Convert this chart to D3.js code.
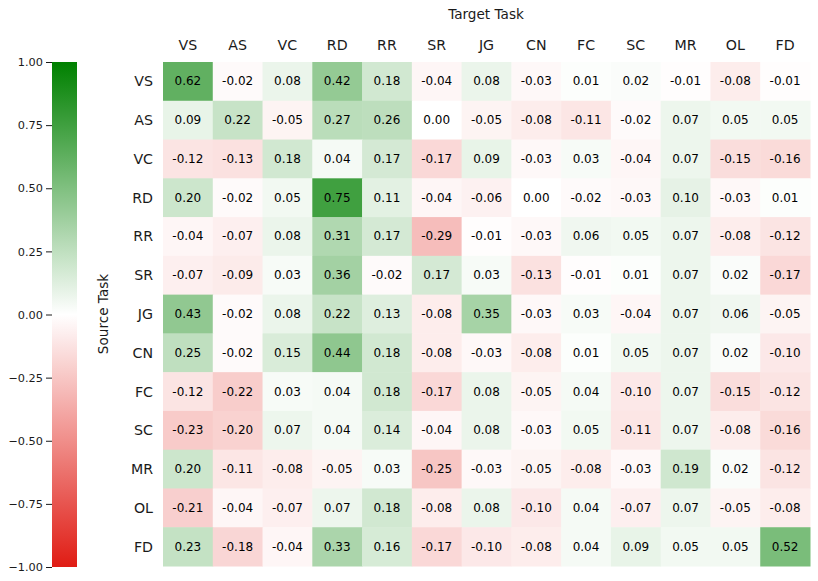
<!DOCTYPE html>
<html><head><meta charset="utf-8">
<script src="https://cdn.jsdelivr.net/npm/d3@7"></script>
<style>body{margin:0;background:#fff;} text{font-family:"DejaVu Sans",sans-serif;}</style>
</head><body>
<svg id="chart" width="818" height="581"></svg>
<script>
const tasks = ["VS","AS","VC","RD","RR","SR","JG","CN","FC","SC","MR","OL","FD"];
const values = [
  [0.62,-0.02,0.08,0.42,0.18,-0.04,0.08,-0.03,0.01,0.02,-0.01,-0.08,-0.01],
  [0.09,0.22,-0.05,0.27,0.26,0.00,-0.05,-0.08,-0.11,-0.02,0.07,0.05,0.05],
  [-0.12,-0.13,0.18,0.04,0.17,-0.17,0.09,-0.03,0.03,-0.04,0.07,-0.15,-0.16],
  [0.20,-0.02,0.05,0.75,0.11,-0.04,-0.06,0.00,-0.02,-0.03,0.10,-0.03,0.01],
  [-0.04,-0.07,0.08,0.31,0.17,-0.29,-0.01,-0.03,0.06,0.05,0.07,-0.08,-0.12],
  [-0.07,-0.09,0.03,0.36,-0.02,0.17,0.03,-0.13,-0.01,0.01,0.07,0.02,-0.17],
  [0.43,-0.02,0.08,0.22,0.13,-0.08,0.35,-0.03,0.03,-0.04,0.07,0.06,-0.05],
  [0.25,-0.02,0.15,0.44,0.18,-0.08,-0.03,-0.08,0.01,0.05,0.07,0.02,-0.10],
  [-0.12,-0.22,0.03,0.04,0.18,-0.17,0.08,-0.05,0.04,-0.10,0.07,-0.15,-0.12],
  [-0.23,-0.20,0.07,0.04,0.14,-0.04,0.08,-0.03,0.05,-0.11,0.07,-0.08,-0.16],
  [0.20,-0.11,-0.08,-0.05,0.03,-0.25,-0.03,-0.05,-0.08,-0.03,0.19,0.02,-0.12],
  [-0.21,-0.04,-0.07,0.07,0.18,-0.08,0.08,-0.10,0.04,-0.07,0.07,-0.05,-0.08],
  [0.23,-0.18,-0.04,0.33,0.16,-0.17,-0.10,-0.08,0.04,0.09,0.05,0.05,0.52]
];
const colorbarTicks = [1.0,0.75,0.5,0.25,0,-0.25,-0.5,-0.75,-1.0];

const svg = d3.select("#chart");
const hm = {left:163, right:810, top:62, bottom:566};
const x = d3.scaleBand().domain(tasks).range([hm.left, hm.right]);
const y = d3.scaleBand().domain(tasks).range([hm.top, hm.bottom]);
const color = d3.scaleLinear().domain([-1,0,1]).range(["rgb(224,28,20)","#ffffff","#008000"]).interpolate(d3.interpolateRgb).clamp(true);

const cells = [];
values.forEach((row,i)=>row.forEach((v,j)=>cells.push({r:tasks[i],c:tasks[j],v})));

const g = svg.append("g");
g.selectAll("rect.cell").data(cells).join("rect")
  .attr("class","cell")
  .attr("x",d=>x(d.c)).attr("y",d=>y(d.r))
  .attr("width",x.bandwidth()+0.5).attr("height",y.bandwidth()+0.5)
  .attr("fill",d=>color(d.v));
g.selectAll("text.ann").data(cells).join("text")
  .attr("class","ann")
  .attr("x",d=>x(d.c)+x.bandwidth()/2).attr("y",d=>y(d.r)+y.bandwidth()/2)
  .attr("text-anchor","middle").attr("dominant-baseline","central")
  .attr("font-size","12px").attr("fill","#000")
  .text(d=>d.v.toFixed(2));

// column labels
svg.append("g").selectAll("text").data(tasks).join("text")
  .attr("x",d=>x(d)+x.bandwidth()/2).attr("y",45)
  .attr("text-anchor","middle").attr("dominant-baseline","central")
  .attr("font-size","14.2px").attr("fill","#1a1a1a").text(d=>d);
// row labels
svg.append("g").selectAll("text").data(tasks).join("text")
  .attr("x",153).attr("y",d=>y(d)+y.bandwidth()/2)
  .attr("text-anchor","end").attr("dominant-baseline","central")
  .attr("font-size","14.2px").attr("fill","#1a1a1a").text(d=>d);

svg.append("text").attr("x",486).attr("y",14).attr("text-anchor","middle")
  .attr("dominant-baseline","central").attr("font-size","13.6px").attr("fill","#1a1a1a").text("Target Task");
svg.append("text").attr("transform","translate(103,314) rotate(-90)").attr("text-anchor","middle")
  .attr("dominant-baseline","central").attr("font-size","13.6px").attr("fill","#1a1a1a").text("Source Task");

// colorbar
const cb = {x:52, w:25, top:62, bottom:567};
const cy = d3.scaleLinear().domain([-1,1]).range([cb.bottom, cb.top]);
const defs = svg.append("defs");
const grad = defs.append("linearGradient").attr("id","cbgrad").attr("x1",0).attr("y1",1).attr("x2",0).attr("y2",0);
d3.range(0,21).map(k=>-1+k*0.1).forEach(v=>{
  grad.append("stop").attr("offset",(v+1)/2).attr("stop-color",color(v));
});
svg.append("rect").attr("x",cb.x).attr("y",cb.top).attr("width",cb.w).attr("height",cb.bottom-cb.top).attr("fill","url(#cbgrad)");
const axis = d3.axisLeft(cy).tickValues(colorbarTicks).tickSize(6).tickPadding(3)
  .tickFormat(d=>d3.format(".2f")(d).replace("-","\u2212"));
const ag = svg.append("g").attr("transform",`translate(${cb.x},0)`).call(axis);
ag.select(".domain").remove();
ag.selectAll("text").attr("font-size","11.3px").attr("fill","#1a1a1a").style("font-family","DejaVu Sans");
ag.selectAll("line").attr("stroke","#1a1a1a").attr("stroke-width",1);
</script>
</body></html>
